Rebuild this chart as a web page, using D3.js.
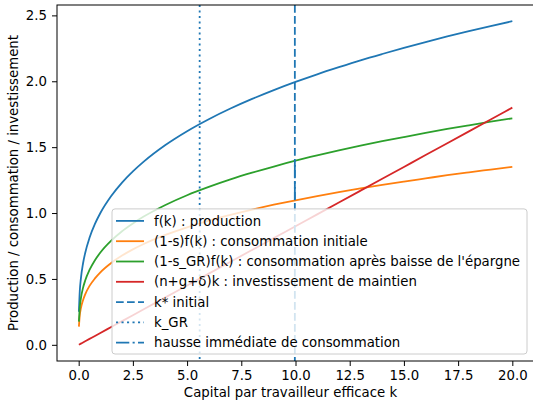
<!DOCTYPE html>
<html>
<head>
    <meta charset="UTF-8">
    <title>Baisse de l'épargne et règle d'or</title>
    <script src="https://d3js.org/d3.v7.min.js"></script>
    <style>
        body { margin: 0; background: #fff; font-family: "DejaVu Sans", sans-serif; }
        svg { display: block; }
        .tick text { font-size: 13.3px; fill: #000; }
        .axis-title { font-size: 13.3px; fill: #000; text-anchor: middle; }
        .legend text { font-size: 13.3px; fill: #000; }
    </style>
</head>
<body>
<div id="chart"></div>
<script>
    // valeurs
    const kValues = [0.01, 0.05, 0.1, 0.2, 0.3, 0.5, 0.75, 1, 1.5, 2, 2.5, 3, 4, 5, 6, 7, 8, 9, 10,
                     11, 12, 13, 14, 15, 16, 17, 18, 19, 20];
    const production = [0.251, 0.407, 0.501, 0.617, 0.697, 0.812, 0.917, 1.000, 1.129, 1.231, 1.316, 1.390,
                        1.516, 1.621, 1.712, 1.793, 1.866, 1.933, 1.995, 2.053, 2.107, 2.159, 2.207, 2.253,
                        2.297, 2.340, 2.380, 2.419, 2.456];
    const consoInitiale = [0.138, 0.224, 0.276, 0.339, 0.383, 0.447, 0.504, 0.550, 0.621, 0.677, 0.724, 0.765,
                           0.834, 0.892, 0.942, 0.986, 1.026, 1.063, 1.097, 1.129, 1.159, 1.187, 1.214, 1.239,
                           1.263, 1.287, 1.309, 1.330, 1.351];
    const consoGR = [0.176, 0.285, 0.351, 0.432, 0.488, 0.568, 0.642, 0.700, 0.790, 0.862, 0.921, 0.973,
                     1.061, 1.135, 1.198, 1.255, 1.306, 1.353, 1.397, 1.437, 1.475, 1.511, 1.545, 1.577,
                     1.608, 1.638, 1.666, 1.693, 1.719];
    const investissement = [0.001, 0.0045, 0.009, 0.018, 0.027, 0.045, 0.0675, 0.09, 0.135, 0.18, 0.225, 0.27,
                            0.36, 0.45, 0.54, 0.63, 0.72, 0.81, 0.9, 0.99, 1.08, 1.17, 1.26, 1.35,
                            1.44, 1.53, 1.62, 1.71, 1.8];
    const kStar = 9.97;
    const kGR = 5.58;
    const hausse = [1.097, 1.397];   // de la conso initiale à la nouvelle conso, en k*
    const xTicks = [0, 2.5, 5, 7.5, 10, 12.5, 15, 17.5, 20];
    const yTicks = [0, 0.5, 1, 1.5, 2, 2.5];
    const legendLabels = [
        "f(k) : production",
        "(1-s)f(k) : consommation initiale",
        "(1-s_GR)f(k) : consommation après baisse de l'épargne",
        "(n+g+δ)k : investissement de maintien",
        "k* initial",
        "k_GR",
        "hausse immédiate de consommation"
    ];

    const width = 533, height = 403;
    const box = { left: 57, right: 534, top: 5, bottom: 361 };
    const blue = "#1f77b4", orange = "#ff7f0e", green = "#2ca02c", red = "#d62728";
    const lw = 1.8;

    const svg = d3.select("#chart").append("svg")
        .attr("width", width).attr("height", height);

    // marges à la matplotlib (5 %)
    const xMin = 0, xMax = d3.max(kValues);
    const yMin = 0, yMax = d3.max(production);
    const xPad = (xMax - xMin) * 0.05, yPad = (yMax - yMin) * 0.05;

    const x = d3.scaleLinear().domain([xMin - xPad, xMax + xPad]).range([box.left, box.right]);
    const y = d3.scaleLinear().domain([yMin - yPad, yMax + yPad]).range([box.bottom, box.top]);

    const plot = svg.append("g");
    plot.append("clipPath").attr("id", "clip").append("rect")
        .attr("x", box.left).attr("y", box.top)
        .attr("width", box.right - box.left).attr("height", box.bottom - box.top);
    const inner = plot.append("g").attr("clip-path", "url(#clip)");

    const line = d3.line().x(d => x(d[0])).y(d => y(d[1])).curve(d3.curveMonotoneX);

    const series = [
        { vals: production, color: blue },
        { vals: consoInitiale, color: orange },
        { vals: consoGR, color: green },
        { vals: investissement, color: red }
    ];
    series.forEach(s => {
        inner.append("path")
            .datum(kValues.map((k, i) => [k, s.vals[i]]))
            .attr("fill", "none").attr("stroke", s.color).attr("stroke-width", lw)
            .attr("d", line);
    });

    // droites verticales
    inner.append("line")
        .attr("x1", x(kStar)).attr("x2", x(kStar)).attr("y1", box.top).attr("y2", box.bottom)
        .attr("stroke", blue).attr("stroke-width", lw).attr("stroke-dasharray", "7.7,3.3");
    inner.append("line")
        .attr("x1", x(kGR)).attr("x2", x(kGR)).attr("y1", box.top).attr("y2", box.bottom)
        .attr("stroke", blue).attr("stroke-width", lw).attr("stroke-dasharray", "2.1,3.4");
    inner.append("line")
        .attr("x1", x(kStar)).attr("x2", x(kStar)).attr("y1", y(hausse[0])).attr("y2", y(hausse[1]))
        .attr("stroke", blue).attr("stroke-width", lw).attr("stroke-dasharray", "13.3,3.3,2.1,3.3");

    // axes
    const xAxis = svg.append("g").attr("transform", `translate(0,${box.bottom})`)
        .call(d3.axisBottom(x).tickValues(xTicks).tickFormat(d3.format(".1f")).tickSize(5).tickPadding(5));
    const yAxis = svg.append("g").attr("transform", `translate(${box.left},0)`)
        .call(d3.axisLeft(y).tickValues(yTicks).tickFormat(d3.format(".1f")).tickSize(5).tickPadding(5));
    [xAxis, yAxis].forEach(a => {
        a.select(".domain").remove();
        a.selectAll(".tick line").attr("stroke", "#000").attr("stroke-width", 1);
        a.selectAll(".tick text").attr("font-family", "DejaVu Sans, sans-serif").attr("font-size", 13.3);
    });

    // cadre
    svg.append("rect")
        .attr("x", box.left).attr("y", box.top)
        .attr("width", box.right - box.left).attr("height", box.bottom - box.top)
        .attr("fill", "none").attr("stroke", "#000").attr("stroke-width", 1);

    // titres des axes
    svg.append("text").attr("class", "axis-title")
        .attr("x", (box.left + box.right) / 2 - 5).attr("y", 397)
        .text("Capital par travailleur efficace k");
    svg.append("text").attr("class", "axis-title")
        .attr("transform", `translate(18,${(box.top + box.bottom) / 2}) rotate(-90)`)
        .text("Production / consommation / investissement");

    // légende
    const leg = svg.append("g").attr("class", "legend");
    const legRight = box.right - 7, legBottom = box.bottom - 7;
    const legLeft = 112, rowH = 20.3;
    const legTop = legBottom - legendLabels.length * rowH - 3;
    leg.append("rect")
        .attr("x", legLeft).attr("y", legTop)
        .attr("width", legRight - legLeft).attr("height", legBottom - legTop)
        .attr("rx", 3).attr("fill", "rgba(255,255,255,0.8)")
        .attr("stroke", "#cccccc").attr("stroke-width", 1);

    const handles = [
        { color: blue, dash: null },
        { color: orange, dash: null },
        { color: green, dash: null },
        { color: red, dash: null },
        { color: blue, dash: "7.7,3.3" },
        { color: blue, dash: "2.1,3.4" },
        { color: blue, dash: "13.3,3.3,2.1,3.3" }
    ];
    legendLabels.forEach((label, i) => {
        const cy = legTop + 12 + i * rowH;
        leg.append("line")
            .attr("x1", legLeft + 4).attr("x2", legLeft + 32).attr("y1", cy).attr("y2", cy)
            .attr("stroke", handles[i].color).attr("stroke-width", lw)
            .attr("stroke-dasharray", handles[i].dash);
        leg.append("text")
            .attr("x", legLeft + 42).attr("y", cy).attr("dy", "0.35em")
            .text(label);
    });
</script>
</body>
</html>
